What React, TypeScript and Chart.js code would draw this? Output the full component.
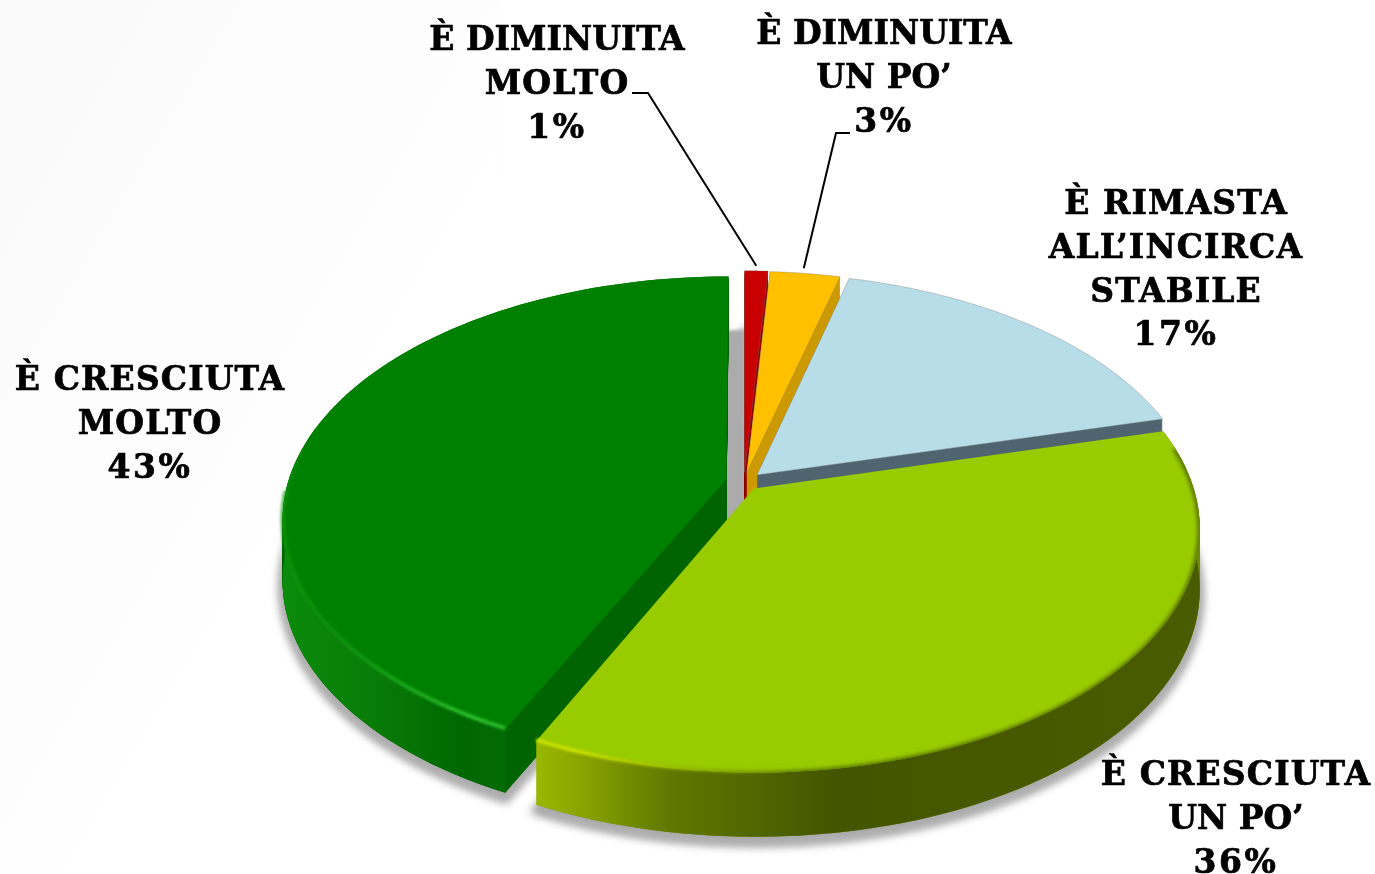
import React, { useEffect, useRef } from "react";
import { Chart, registerables } from "chart.js";
Chart.register(...registerables);

const categories = ["È DIMINUITA MOLTO", "È DIMINUITA UN PO’", "È RIMASTA ALL’INCIRCA STABILE", "È CRESCIUTA UN PO’", "È CRESCIUTA MOLTO"];
const values = [1, 3, 17, 36, 43];
const explode = [18, 17, 18, 15, 18];
const topColors = ["#C80000", "#FFC000", "#B7DDE8", "#99CC00", "#008000"];
const cutColors = ["#8f0000", "#CC9A00", "#4F6570", "#6f8f00", "#006400"];
const labelLines = [
  ["È DIMINUITA", "MOLTO", "1%"],
  ["È DIMINUITA", "UN PO’", "3%"],
  ["È RIMASTA", "ALL’INCIRCA", "STABILE", "17%"],
  ["È CRESCIUTA", "UN PO’", "36%"],
  ["È CRESCIUTA", "MOLTO", "43%"],
];
const labelAnchors = [[557, 50], [884, 44], [1176, 214], [1236, 785], [150, 390]];

const CX = 744, CY = 482, RT = 438, SQ = 0.54, K = 0.16, LINE = 43.8;

function rimStops(i: number): [number, string][] {
  if (i === 3) return [[0, "#9ab800"], [0.08, "#86a000"], [0.2, "#607800"], [0.45, "#445500"], [1, "#4a5c00"]];
  return [[0, "#0b8b0b"], [0.4, "#087c08"], [0.8, "#006800"], [1, "#046b04"]];
}

const pie3d = {
  id: "pie3d",
  beforeDraw(chart: any) {
    const c = chart.ctx;
    c.save();
    c.fillStyle = "#ffffff";
    c.fillRect(0, 0, 1375, 874);
    const g = c.createLinearGradient(0, 150, 420, 400);
    g.addColorStop(0, "#fafafa");
    g.addColorStop(1, "#ffffff");
    c.fillStyle = g;
    c.fillRect(0, 0, 500, 874);
    c.restore();
  },
  beforeDatasetsDraw(chart: any) {
    const c = chart.ctx;
    const arcs = chart.getDatasetMeta(0).data;
    const scale = RT / arcs[0].outerRadius;
    const project = (arc: any, off: number, r: number, a: number) => {
      const mid = (arc.startAngle + arc.endAngle) / 2;
      const u = off * scale * Math.cos(mid) + r * Math.cos(a);
      const v = off * scale * Math.sin(mid) + r * Math.sin(a);
      const s = 1 / (1 - (K * v) / RT);
      return { x: CX + u * s, y: CY + v * SQ * s, v: v / RT };
    };
    const depth = (v: number) => 60 + 4 * v;
    const outline = (arc: any, off: number) => {
      const pts: any[] = [];
      const n = 90;
      for (let j = 0; j <= n; j++) {
        const a = arc.startAngle + (arc.endAngle - arc.startAngle) * (j / n);
        pts.push(project(arc, off, RT, a));
      }
      return pts;
    };
    const poly = (pts: any[], dyf: (p: any) => number) => {
      c.beginPath();
      pts.forEach((p, j) => (j ? c.lineTo(p.x, p.y + dyf(p)) : c.moveTo(p.x, p.y + dyf(p))));
      c.closePath();
    };
    const openPath = (pts: any[], dy: number) => {
      c.beginPath();
      pts.forEach((p, j) => (j ? c.lineTo(p.x, p.y + dy) : c.moveTo(p.x, p.y + dy)));
    };
    const items = arcs.map((arc: any, i: number) => {
      const off = arc.options.offset;
      const rim = outline(arc, off);
      const apex = project(arc, off, 0, 0);
      return { arc, i, off, rim, apex, full: [apex, ...rim] };
    });

    // floor shadow
    c.save();
    c.filter = "blur(4px)";
    c.fillStyle = "#a4a4a4";
    c.strokeStyle = "#a4a4a4";
    c.lineWidth = 8;
    items.forEach((it: any) => {
      poly(it.full, (p) => depth(p.v) + 6);
      c.fill();
      c.stroke();
    });
    c.restore();
    c.save();
    c.beginPath();
    c.rect(0, 0, 1375, 600);
    c.clip();
    c.fillStyle = "#ababab";
    c.filter = "blur(1.5px)";
    const d = items[4];
    poly([project(d.arc, 0, 0, 0), ...outline(d.arc, 0)], (p) => depth(p.v) - 4);
    c.fill();
    c.restore();

    // back to front
    [4, 0, 1, 2, 3].forEach((idx) => {
      const it = items[idx];
      const { i, rim, full } = it;
      c.fillStyle = cutColors[i];
      for (let t = 1; t >= 0; t -= 0.02) {
        poly(full, (p) => depth(p.v) * t);
        c.fill();
      }
      const xs = rim.map((p: any) => p.x);
      const lo = Math.min(...xs);
      let wall: any = null;
      if (i >= 3) {
        const front = rim.filter((p: any) => p.v > -0.3);
        const fx = front.map((p: any) => p.x);
        wall = c.createLinearGradient(Math.min(...fx), 0, Math.max(...fx), 0);
        rimStops(i).forEach(([o, col]) => wall.addColorStop(o, col));
        c.fillStyle = wall;
        c.beginPath();
        rim.forEach((p: any, j: number) => (j ? c.lineTo(p.x, p.y) : c.moveTo(p.x, p.y)));
        [...rim].reverse().forEach((p: any) => c.lineTo(p.x, p.y + depth(p.v)));
        c.closePath();
        c.fill();
      }

      // top face
      c.fillStyle = topColors[i];
      poly(full, () => 0);
      c.fill();
      c.strokeStyle = "rgba(120,120,120,0.45)";
      c.lineWidth = 0.8;
      if (i < 3) c.stroke();

      if (i >= 3) {
        // soft transition between the face and the wall
        c.save();
        poly(full, () => 0);
        c.clip();
        c.filter = "blur(2px)";
        c.strokeStyle = wall;
        c.lineWidth = 4;
        openPath(rim.filter((p: any) => p.v > -0.15), 1);
        c.stroke();
        c.restore();

        // bevel glint along the front edge
        const glint = i === 3 ? "#d2e800" : "#34cf34";
        const dim = i === 3 ? "rgba(153,204,0,0)" : "rgba(14,150,14,0.8)";
        const gx0 = i === 3 ? lo : rim[0].x;
        const gl = c.createLinearGradient(gx0, 0, i === 3 ? lo + 260 : gx0 - 170, 0);
        gl.addColorStop(0, i === 3 ? glint : "#30c030");
        gl.addColorStop(i === 3 ? 0.15 : 0.2, glint);
        gl.addColorStop(1, dim);
        c.save();
        c.filter = "blur(1.5px)";
        c.strokeStyle = gl;
        c.lineWidth = 3.5;
        openPath(rim.filter((p: any) => p.v > (i === 3 ? 0.5 : 0.02)), -1);
        c.stroke();
        c.restore();
      }
    });

    // leader lines
    const rimPoint = (i: number, frac: number) => {
      const a = arcs[i];
      return project(a, a.options.offset, RT, a.startAngle + (a.endAngle - a.startAngle) * frac);
    };
    c.strokeStyle = "#000";
    c.lineWidth = 2;
    const p0 = rimPoint(0, 0.5);
    c.beginPath();
    c.moveTo(p0.x, p0.y - 5);
    c.lineTo(648, 93);
    c.lineTo(632, 93);
    c.stroke();
    const p1 = rimPoint(1, 0.48);
    c.beginPath();
    c.moveTo(p1.x, p1.y - 5);
    c.lineTo(836, 133);
    c.lineTo(850, 133);
    c.stroke();

    // labels
    c.fillStyle = "#000";
    c.strokeStyle = "#000";
    c.lineWidth = 0.7;
    c.lineJoin = "round";
    c.font = "bold 33px 'DejaVu Serif'";
    c.textAlign = "center";
    c.textBaseline = "alphabetic";
    labelLines.forEach((lines, i) => {
      lines.forEach((t, j) => {
        const narrow = t.includes("DIMINUITA") || t.includes("PO");
        c.letterSpacing = t.includes("%") ? "2.5px" : narrow ? "0px" : "1.1px";
        const x = labelAnchors[i][0];
        const y = labelAnchors[i][1] + j * LINE;
        c.fillText(t, x, y);
        c.strokeText(t, x, y);
      });
    });
    c.letterSpacing = "0px";
    return false;
  },
};

export default function App() {
  const ref = useRef<HTMLCanvasElement>(null);
  useEffect(() => {
    document.body.style.margin = "0";
    document.body.style.overflow = "hidden";
    const chart = new Chart(ref.current as HTMLCanvasElement, {
      type: "pie",
      data: {
        labels: categories,
        datasets: [{ data: values, backgroundColor: topColors, offset: explode, borderWidth: 0 }],
      },
      options: {
        responsive: false,
        animation: false,
        plugins: { legend: { display: false }, tooltip: { enabled: false } },
      },
      plugins: [pie3d],
    } as any);
    return () => chart.destroy();
  }, []);
  return <canvas ref={ref} width={1375} height={874} style={{ display: "block" }} />;
}
